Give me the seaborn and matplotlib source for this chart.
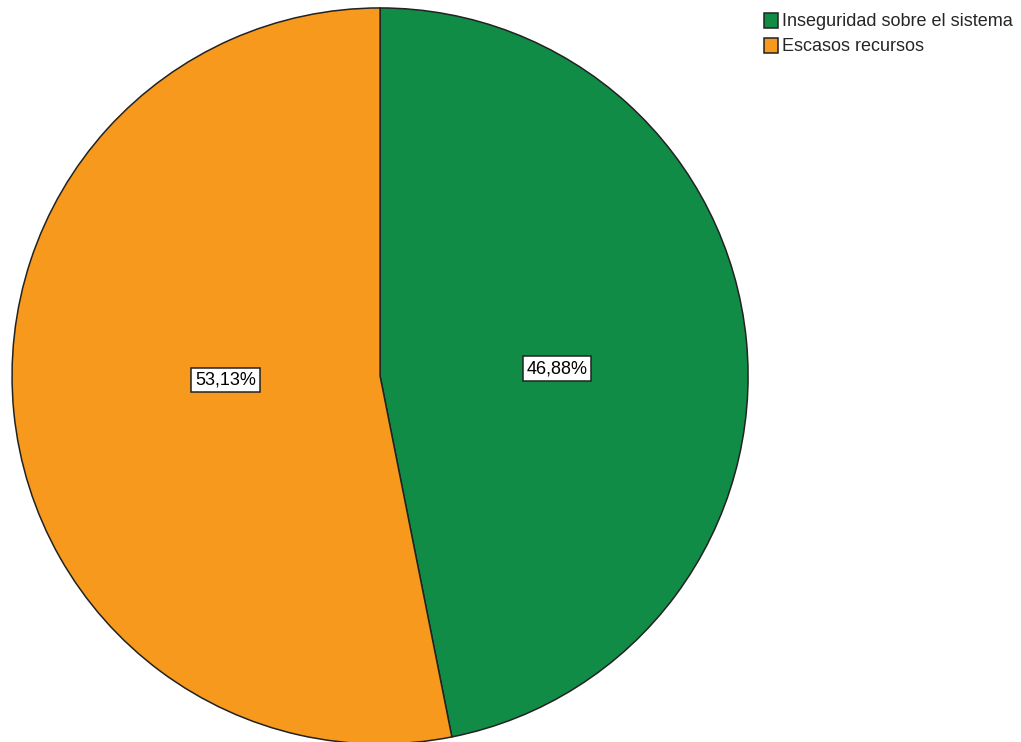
import matplotlib
matplotlib.use("Agg")
import matplotlib.pyplot as plt
import seaborn as sns

# data
categories = ["Inseguridad sobre el sistema", "Escasos recursos"]
percentages = [46.88, 53.13]
pct_labels = ["46,88%", "53,13%"]
colors = ["#118c47", "#f7991d"]

sns.set_theme(style="white")
plt.rcParams['font.family'] = ['Liberation Sans', 'DejaVu Sans']

fig = plt.figure(figsize=(10.21, 7.42), dpi=100)
ax = fig.add_axes([0.0118, -0.0027, 0.7209, 0.992])

wedges, texts, autotexts = ax.pie(
    percentages, colors=colors, startangle=90, counterclock=False,
    autopct="%.2f", pctdistance=0.45,
    wedgeprops=dict(edgecolor="#222222", linewidth=1.1),
    textprops=dict(fontsize=13, color="black"),
)
# SPSS-style label placement inside each slice
label_pos = [(0.48, 0.02), (-0.42, -0.01)]
for t, lab, pos in zip(autotexts, pct_labels, label_pos):
    t.set_text(lab)
    t.set_position(pos)
    t.set_bbox(dict(boxstyle="square,pad=0.2", facecolor="white",
                    edgecolor="#222222", linewidth=1.1))
ax.set_xlim(-1, 1)
ax.set_ylim(-1, 1)
ax.set_aspect("equal")
ax.axis("off")

fig.legend(wedges, categories, loc="upper left", bbox_to_anchor=(0.748, 0.983),
           frameon=False, fontsize=13, handlelength=0.8, handleheight=0.9,
           handletextpad=0.2, labelspacing=0.4, borderpad=0.0, borderaxespad=0)

fig.savefig("out.png", dpi=100)
